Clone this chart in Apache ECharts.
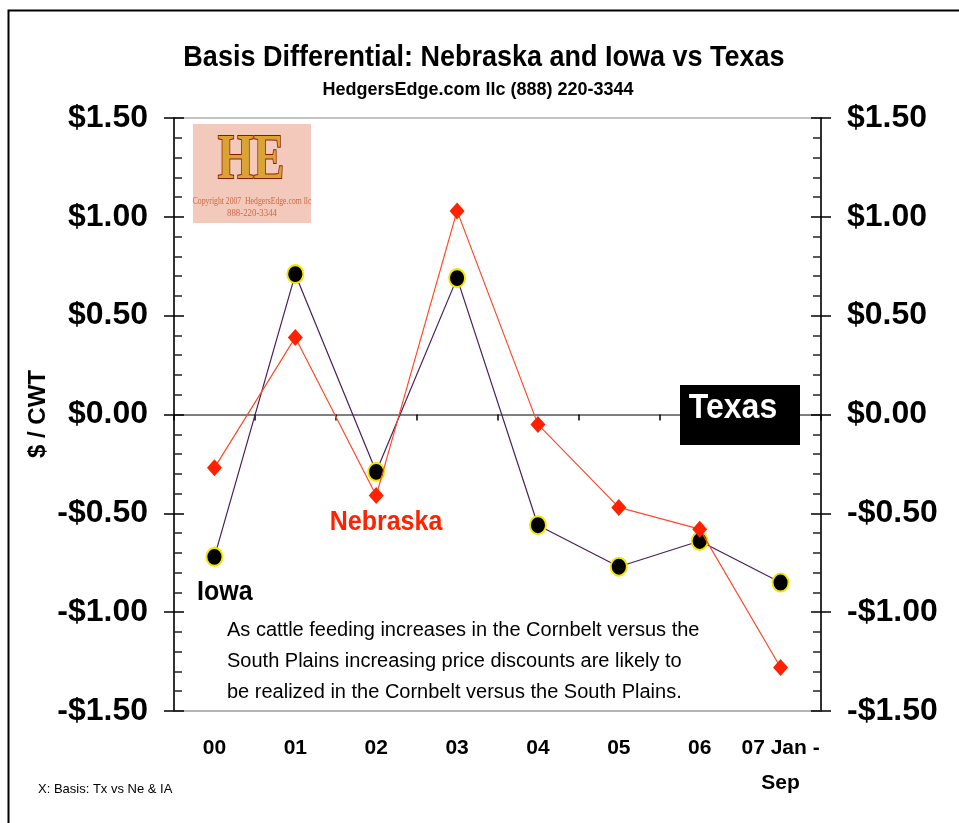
<!DOCTYPE html>
<html><head><meta charset="utf-8">
<script src="https://cdn.jsdelivr.net/npm/echarts@6/dist/echarts.min.js"></script>
<style>html,body{margin:0;padding:0;background:#fff}#c{width:959px;height:823px}</style>
</head><body><div id="c"></div>
<script>
const categories = ['00','01','02','03','04','05','06','07 Jan -\nSep'];
const iowa = [-0.72, 0.71, -0.29, 0.69, -0.56, -0.77, -0.64, -0.85];
const nebraska = [-0.27, 0.39, -0.41, 1.03, -0.05, -0.47, -0.58, -1.28];
const yMin = -1.5, yMax = 1.5, yStep = 0.5;
const noteLines = [
  'As cattle feeding increases in the Cornbelt versus the',
  'South Plains increasing price discounts are likely to',
  'be realized in the Cornbelt versus the South Plains.'
];

const FONT = '"Liberation Sans", Arial, sans-serif';
const fmt = v => (v < 0 ? '-$' : '$') + Math.abs(v).toFixed(2);

function yAx(pos, withLabels) {
  const base = {
    type: 'value', position: pos, min: yMin, max: yMax, interval: yStep,
    splitLine: { show: false },
  };
  if (withLabels) {
    return Object.assign(base, {
      axisLine: { show: true, lineStyle: { color: '#000', width: 1.5 } },
      axisTick: { show: true, inside: false, length: 10, lineStyle: { color: '#000', width: 1.5 } },
      axisLabel: { formatter: fmt, fontFamily: FONT, fontWeight: 'bold', fontSize: 32, color: '#000', margin: 26 }
    });
  }
  return Object.assign(base, {
    axisLine: { show: false },
    axisTick: { show: true, inside: true, length: 10, lineStyle: { color: '#000', width: 1.5 } },
    minorTick: { show: true, splitNumber: 5, length: 8, lineStyle: { color: '#222', width: 1.5 } },
    axisLabel: { show: false }
  });
}

const chart = echarts.init(document.getElementById('c'), null, { renderer: 'canvas' });
chart.setOption({
  backgroundColor: '#fff',
  animation: false,
  grid: { left: 174, right: 138, top: 118, bottom: 112, containLabel: false, outerBoundsMode: 'none',
          show: true, borderColor: '#b0b0b0', borderWidth: 1.5, backgroundColor: 'transparent' },
  xAxis: [
    { type: 'category', data: categories, position: 'top', boundaryGap: true,
      axisLine: { show: true, onZero: true, lineStyle: { color: '#555', width: 1.5 } },
      axisTick: { show: true, inside: true, length: 6, interval: 0, lineStyle: { color: '#000', width: 1.5 } },
      axisLabel: { show: false } },
    { type: 'category', data: categories, position: 'bottom', boundaryGap: true,
      axisLine: { show: true, onZero: false, lineStyle: { color: '#b0b0b0', width: 1.5 } },
      axisTick: { show: false },
      axisLabel: { interval: 0, fontFamily: FONT, fontWeight: 'bold', fontSize: 21, color: '#000',
                   margin: 20, lineHeight: 35, verticalAlign: 'top' } }
  ],
  yAxis: [ yAx('left', true), yAx('left', false), yAx('right', true), yAx('right', false) ],
  series: [
    { name: 'Iowa', type: 'line', data: iowa, xAxisIndex: 0, yAxisIndex: 0,
      lineStyle: { color: '#4a1d5c', width: 1.2 },
      symbol: 'circle', symbolSize: [16, 18],
      itemStyle: { color: '#000', borderColor: '#f2e600', borderWidth: 2 }, z: 3 },
    { name: 'Nebraska', type: 'line', data: nebraska, xAxisIndex: 0, yAxisIndex: 0,
      lineStyle: { color: '#ff4a2a', width: 1.2 },
      symbol: 'diamond', symbolSize: [15, 17],
      itemStyle: { color: '#ff2200', borderWidth: 0 }, z: 4 }
  ],
  graphic: [
    { type: 'rect', left: 6, top: 8, shape: { x: 0, y: 0, width: 1000, height: 1000 },
      style: { fill: 'none', stroke: '#000', lineWidth: 2 }, silent: true, z: -10 },
    { type: 'text', x: 484, y: 58, scaleY: 1.12, style: { text: 'Basis Differential: Nebraska and Iowa vs Texas',
      font: 'bold 27px ' + FONT, fill: '#000', align: 'center', verticalAlign: 'middle' } },
    { type: 'text', x: 478, y: 90, style: { text: 'HedgersEdge.com llc (888) 220-3344',
      font: 'bold 18px ' + FONT, fill: '#000', align: 'center', verticalAlign: 'middle' } },
    { type: 'text', x: 38, y: 414, rotation: Math.PI / 2, style: { text: '$ / CWT',
      font: 'bold 24px ' + FONT, fill: '#000', align: 'center', verticalAlign: 'middle' } },
    { type: 'text', x: 38, y: 789, style: { text: 'X: Basis: Tx vs Ne & IA',
      font: '13px ' + FONT, fill: '#000', align: 'left', verticalAlign: 'middle' } },
    { type: 'text', x: 386, y: 522, scaleY: 1.1, style: { text: 'Nebraska',
      font: 'bold 25px ' + FONT, fill: '#ff2200', align: 'center', verticalAlign: 'middle' }, z: 10 },
    { type: 'text', x: 197, y: 592, scaleY: 1.1, style: { text: 'Iowa',
      font: 'bold 25px ' + FONT, fill: '#000', align: 'left', verticalAlign: 'middle' }, z: 10 },
    { type: 'rect', shape: { x: 680, y: 385, width: 120, height: 60 }, style: { fill: '#000' }, z: 10 },
    { type: 'text', x: 733, y: 408, scaleY: 1.1, style: { text: 'Texas',
      font: 'bold 32px ' + FONT, fill: '#fff', align: 'center', verticalAlign: 'middle' }, z: 11 },
    { type: 'text', x: 227, y: 615, style: { text: noteLines.join('\n'),
      font: '20px ' + FONT, fill: '#000', align: 'left', verticalAlign: 'top', lineHeight: 31 }, z: 10 },
    // logo
    { type: 'rect', shape: { x: 193, y: 124, width: 118, height: 99 }, style: { fill: '#f2c9bb' }, z: 10 },
    { type: 'text', x: 251, y: 161, scaleX: 0.72, style: { text: 'HE',
      font: 'bold 64px "Liberation Serif", "DejaVu Serif", serif', align: 'center', verticalAlign: 'middle',
      fill: '#d9a435', stroke: '#8a1a00', lineWidth: 2 }, z: 11 },
    { type: 'text', x: 252, y: 201, scaleX: 0.7, style: { text: 'Copyright 2007  HedgersEdge.com llc',
      font: '11px "Liberation Serif", serif', fill: '#cc6a45', align: 'center', verticalAlign: 'middle' }, z: 11 },
    { type: 'text', x: 252, y: 213, scaleX: 0.8, style: { text: '888-220-3344',
      font: '11px "Liberation Serif", serif', fill: '#cc6a45', align: 'center', verticalAlign: 'middle' }, z: 11 }
  ]
});
</script></body></html>
